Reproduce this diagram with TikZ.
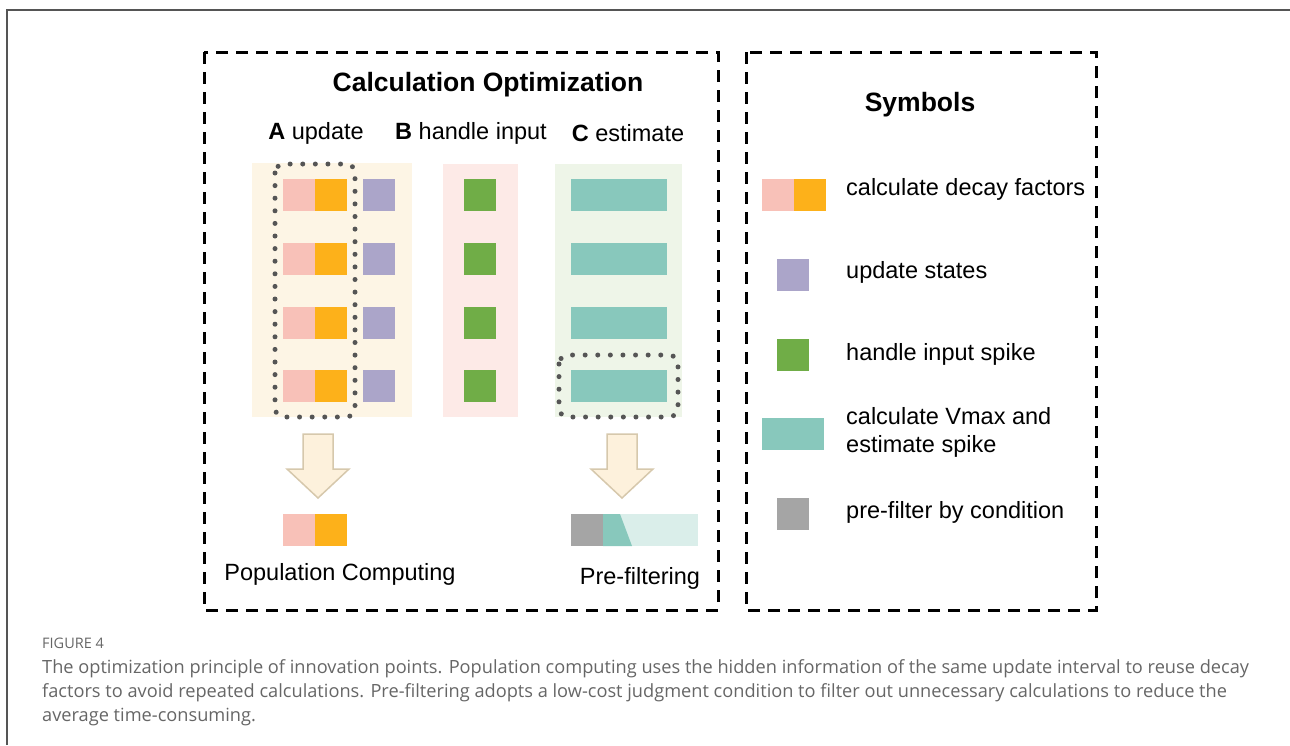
\documentclass[tikz,border=0pt]{standalone}
\usepackage{fontspec}
\setmainfont{Liberation Sans}
\newfontfamily\capfont{Open Sans}
\usetikzlibrary{positioning,calc}

\definecolor{decaypink}{HTML}{F8C1B8}
\definecolor{decayorange}{HTML}{FDB11A}
\definecolor{statepurple}{HTML}{ABA5C9}
\definecolor{inputgreen}{HTML}{70AD47}
\definecolor{vmaxteal}{HTML}{88C8BC}
\definecolor{filtergray}{HTML}{A5A5A5}
\definecolor{paleteal}{HTML}{DAEEEA}
\definecolor{bgcream}{HTML}{FDF5E5}
\definecolor{bgpink}{HTML}{FDEAE7}
\definecolor{bggreen}{HTML}{EEF5E8}
\definecolor{arrowfill}{HTML}{FDF1DC}
\definecolor{arrowline}{HTML}{D6C8AC}
\definecolor{dotgray}{HTML}{555555}
\definecolor{captiongray}{HTML}{666666}

\begin{document}
\begin{tikzpicture}[
    x=1pt, y=-1pt,
    cell/.style={inner sep=0, minimum height=32, minimum width=32},
    wide/.style={cell, minimum width=96},
    lbl/.style={font=\fontsize{23.5}{28}\selectfont, inner sep=0},
    heading/.style={font=\fontsize{26.5}{30}\selectfont\bfseries, inner sep=0},
    panel/.style={black, line width=3, dash pattern=on 12 off 8},
    group/.style={dotgray, line width=5, line cap=round, dash pattern=on 0 off 12.6, rounded corners=9},
    blockarrow/.style={fill=arrowfill, draw=arrowline, line width=1.5, line join=miter}
]
\useasboundingbox (0,0) rectangle (1290,745);

% Page frame
\draw[dotgray, line width=1.5] (7,745) -- (7,10) -- (1290,10);

% Dashed panels
\draw[panel] (204,52) rectangle (718,610);
\draw[panel] (746,52) rectangle (1096,610);

% Titles
\node[heading] (calcopt) at (488,85) {Calculation Optimization};
\node[lbl] (colA) at (316,133) {\textbf{A} update};
\node[lbl] (colB) at (471,133) {\textbf{B} handle input};
\node[lbl] (colC) at (628,133) {\textbf{C} estimate};
\node[heading] (symbols) at (920,105) {Symbols};

% Column backgrounds
\fill[bgcream] (252,163) rectangle (412,417);
\fill[bgpink] (443,164) rectangle (518,417);
\fill[bggreen] (555,164) rectangle (682,417);

% Rows of cells
\foreach \r in {0,...,3} {
  \node[cell, fill=decaypink] (pk\r) at (299,{195+63.8*\r}) {};
  \node[cell, fill=decayorange, right=0pt of pk\r] (or\r) {};
  \node[cell, fill=statepurple] (pu\r) at (379,{195+63.8*\r}) {};
  \node[cell, fill=inputgreen] (gr\r) at (480,{195+63.8*\r}) {};
  \node[wide, fill=vmaxteal] (tl\r) at (619,{195+63.8*\r}) {};
}

% Dotted groups
\draw[group] (275,164) rectangle (355,417);
\draw[group] (559,355) rectangle (678,417);

% Block arrows
\coordinate (arrA) at (318,434);
\coordinate (arrC) at (622,434);
\foreach \c in {arrA,arrC}
  \draw[blockarrow] (\c) ++(-15,0) -- ++(30,0) -- ++(0,35) -- ++(16,0)
    -- ++(-31,29) -- ++(-31,-29) -- ++(16,0) -- cycle;

% Population computing result
\node[cell, fill=decaypink] (poppk) at (299,530) {};
\node[cell, fill=decayorange, right=0pt of poppk] (popor) {};
\node[lbl] (popcomp) at (340,574) {Population Computing};

% Pre-filtering result
\fill[paleteal] (603,514) rectangle (698,546);
\fill[vmaxteal] (603,514) -- (620,514) -- (632,546) -- (603,546) -- cycle;
\node[cell, fill=filtergray] (pfgray) at (587,530) {};
\node[lbl] (prefilt) at (640,578) {Pre-filtering};

% Legend
\node[cell, fill=decaypink] (kpk) at (778,195) {};
\node[cell, fill=decayorange, right=0pt of kpk] (kor) {};
\node[cell, fill=statepurple] (kpu) at (793,275) {};
\node[cell, fill=inputgreen] (kgr) at (793,355) {};
\node[cell, minimum width=62, fill=vmaxteal] (ktl) at (793,434) {};
\node[cell, fill=filtergray] (kgy) at (793,514) {};
\node[lbl, anchor=west] (tdecay) at (846,189) {calculate decay factors};
\node[lbl, anchor=west] (tstate) at (846,272) {update states};
\node[lbl, anchor=west] (tinput) at (846,354) {handle input spike};
\node[lbl, anchor=west, align=left] (tvmax) at (846,432) {calculate Vmax and\\estimate spike};
\node[lbl, anchor=west] (tfilter) at (846,512) {pre-filter by condition};

% Caption
\node[font=\capfont\fontsize{14.5}{17}\selectfont, text=captiongray, anchor=west, inner sep=0] (fignum) at (42,643) {FIGURE 4};
\node[font=\capfont\fontsize{18.2}{24.2}\selectfont, text=captiongray, align=left, anchor=north west, inner sep=0] (caption) at (42,659)
  {The optimization principle of innovation points. Population computing uses the hidden information of the same update interval to reuse decay\\
   factors to avoid repeated calculations. Pre-filtering adopts a low-cost judgment condition to filter out unnecessary calculations to reduce the\\
   average time-consuming.};

\end{tikzpicture}
\end{document}
